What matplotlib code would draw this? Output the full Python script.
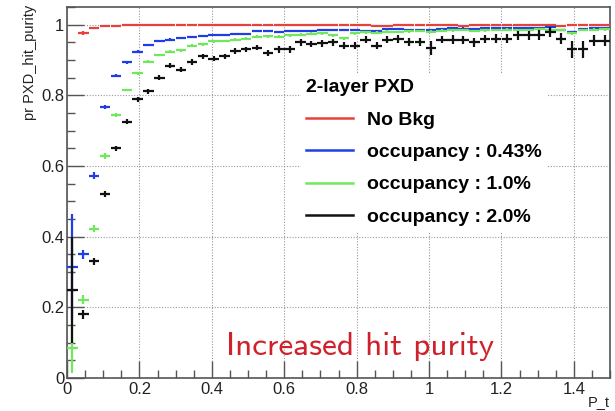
import numpy as np
import matplotlib.pyplot as plt
from matplotlib.lines import Line2D
from matplotlib.ticker import MultipleLocator

# bin centres, 50 bins of 0.03 between 0 and 1.5
pt = np.arange(50) * 0.03 + 0.015

nobkg = [np.nan, 0.977, 0.990, 0.995, 0.997, 0.998, 0.998, 0.999, 0.998, 0.999,
         0.999, 0.998, 0.999, 0.999, 0.998, 0.999, 0.999, 0.998, 0.999, 0.999,
         0.998, 0.999, 0.999, 0.998, 0.999, 0.998, 0.999, 0.999, 0.997, 0.996,
         0.998, 0.999, 0.998, 0.999, 0.998, 0.999, 0.997, 0.999, 0.998, 0.999,
         0.998, 0.999, 0.998, 0.999, 0.998, 0.996, 0.998, 0.999, 0.998, 0.999]
occ043 = [0.315, 0.350, 0.572, 0.766, 0.856, 0.893, 0.924, 0.943, 0.955, 0.958,
          0.962, 0.965, 0.968, 0.970, 0.971, 0.973, 0.974, 0.983, 0.982, 0.978,
          0.981, 0.982, 0.983, 0.985, 0.986, 0.984, 0.985, 0.981, 0.982, 0.987,
          0.988, 0.986, 0.985, 0.984, 0.988, 0.990, 0.989, 0.988, 0.990, 0.991,
          0.990, 0.991, 0.990, 0.990, 0.992, 0.985, 0.978, 0.988, 0.990, 0.990]
occ10 = [0.085, 0.222, 0.422, 0.629, 0.744, 0.815, 0.862, 0.895, 0.914, 0.923,
         0.928, 0.940, 0.944, 0.953, 0.954, 0.958, 0.960, 0.966, 0.967, 0.966,
         0.970, 0.972, 0.974, 0.975, 0.970, 0.962, 0.976, 0.978, 0.977, 0.980,
         0.979, 0.981, 0.982, 0.980, 0.983, 0.984, 0.985, 0.982, 0.984, 0.985,
         0.986, 0.984, 0.985, 0.987, 0.986, 0.985, 0.975, 0.985, 0.986, 0.987]
occ20 = [0.250, 0.180, 0.330, 0.521, 0.650, 0.725, 0.789, 0.812, 0.850, 0.884,
         0.873, 0.894, 0.910, 0.904, 0.910, 0.925, 0.930, 0.935, 0.920, 0.930,
         0.930, 0.950, 0.946, 0.947, 0.950, 0.940, 0.940, 0.958, 0.940, 0.958,
         0.960, 0.950, 0.950, 0.933, 0.958, 0.958, 0.957, 0.950, 0.960, 0.960,
         0.960, 0.970, 0.970, 0.970, 0.980, 0.960, 0.930, 0.930, 0.955, 0.955]

err_nobkg = [0.0] + [0.006, 0.003] + [0.001] * 47
err_043 = [0.15, 0.012, 0.01, 0.006] + [0.003] * 46
err_10 = [0.07, 0.012, 0.01, 0.008, 0.006] + [0.004] * 45
err_20 = [0.15, 0.012, 0.01, 0.009, 0.008, 0.007, 0.007, 0.007, 0.007, 0.007,
          0.008, 0.008, 0.008, 0.008, 0.008, 0.008, 0.008, 0.008, 0.009, 0.009,
          0.009, 0.009, 0.009, 0.009, 0.010, 0.010, 0.010, 0.010, 0.010, 0.010,
          0.011, 0.011, 0.011, 0.020, 0.011, 0.012, 0.012, 0.012, 0.012, 0.013,
          0.013, 0.013, 0.013, 0.014, 0.014, 0.015, 0.024, 0.024, 0.016, 0.016]

labels = ['No Bkg', 'occupancy : 0.43%', 'occupancy : 1.0%', 'occupancy : 2.0%']
colors = ['#e8413c', '#1f3ee6', '#6fe85c', '#111111']

fig = plt.figure(figsize=(6.15, 4.11), dpi=100)
ax = fig.add_axes([0.109, 0.080, 0.883, 0.903])

series = [(nobkg, err_nobkg), (occ043, err_043), (occ10, err_10), (occ20, err_20)]
for (vals, errs), c in zip(series, colors):
    ax.errorbar(pt, vals, xerr=0.0145, yerr=errs, fmt='none', ecolor=c,
                elinewidth=1.6, capsize=0, zorder=3)

ax.set_xlim(0, 1.5)
ax.set_ylim(0, 1.05)
ax.xaxis.set_minor_locator(MultipleLocator(0.05))
ax.yaxis.set_minor_locator(MultipleLocator(0.05))
ax.set_xticks(np.arange(0, 1.41, 0.2))
ax.set_xticklabels(['0', '0.2', '0.4', '0.6', '0.8', '1', '1.2', '1.4'])
ax.set_yticks(np.arange(0, 1.01, 0.2))
ax.set_yticklabels(['0', '0.2', '0.4', '0.6', '0.8', '1'])
ax.tick_params(which='major', direction='in', length=12, width=1.0,
               color='#555555', labelsize=12, labelcolor='#222222')
ax.tick_params(which='minor', direction='in', length=6, width=1.0, color='#555555')
ax.tick_params(axis='y', pad=2)
ax.tick_params(axis='x', pad=3)
for lab in ax.get_xticklabels() + ax.get_yticklabels():
    lab.set_family('Liberation Sans')
for s in ax.spines.values():
    s.set_color('#555555')
    s.set_linewidth(1.2)
ax.grid(True, which='major', color='#999999', linestyle=(0, (1, 1.5)), linewidth=0.8)
ax.set_axisbelow(True)

ax.text(-0.068, 1.005, 'pr PXD_hit_purity', transform=ax.transAxes, rotation=90,
        ha='center', va='top', fontsize=10.5, family='Liberation Sans', color='#222222')
ax.text(1.0, -0.045, 'P_t', transform=ax.transAxes, ha='right', va='top',
        fontsize=10.5, family='Liberation Sans', color='#222222')

handles = [Line2D([], [], color=c, lw=1.8) for c in colors]
leg = ax.legend(handles, labels, title='2-layer PXD', loc='upper left',
                bbox_to_anchor=(0.43, 0.821), frameon=True, fancybox=False,
                framealpha=1, facecolor='white', edgecolor='none',
                prop={'family': 'Liberation Sans', 'weight': 'bold', 'size': 14},
                title_fontproperties={'family': 'Liberation Sans', 'weight': 'bold', 'size': 14},
                handlelength=2.4, handletextpad=0.7, labelspacing=0.76,
                borderpad=0.3, borderaxespad=0)
leg._legend_box.align = 'left'
leg.set_zorder(5)

ax.text(0.292, 0.062, 'Increased hit purity', transform=ax.transAxes,
        fontsize=24, family='cmss10', color='#d0202c', ha='left', va='baseline', zorder=6)

fig.savefig('out.png', dpi=100)
